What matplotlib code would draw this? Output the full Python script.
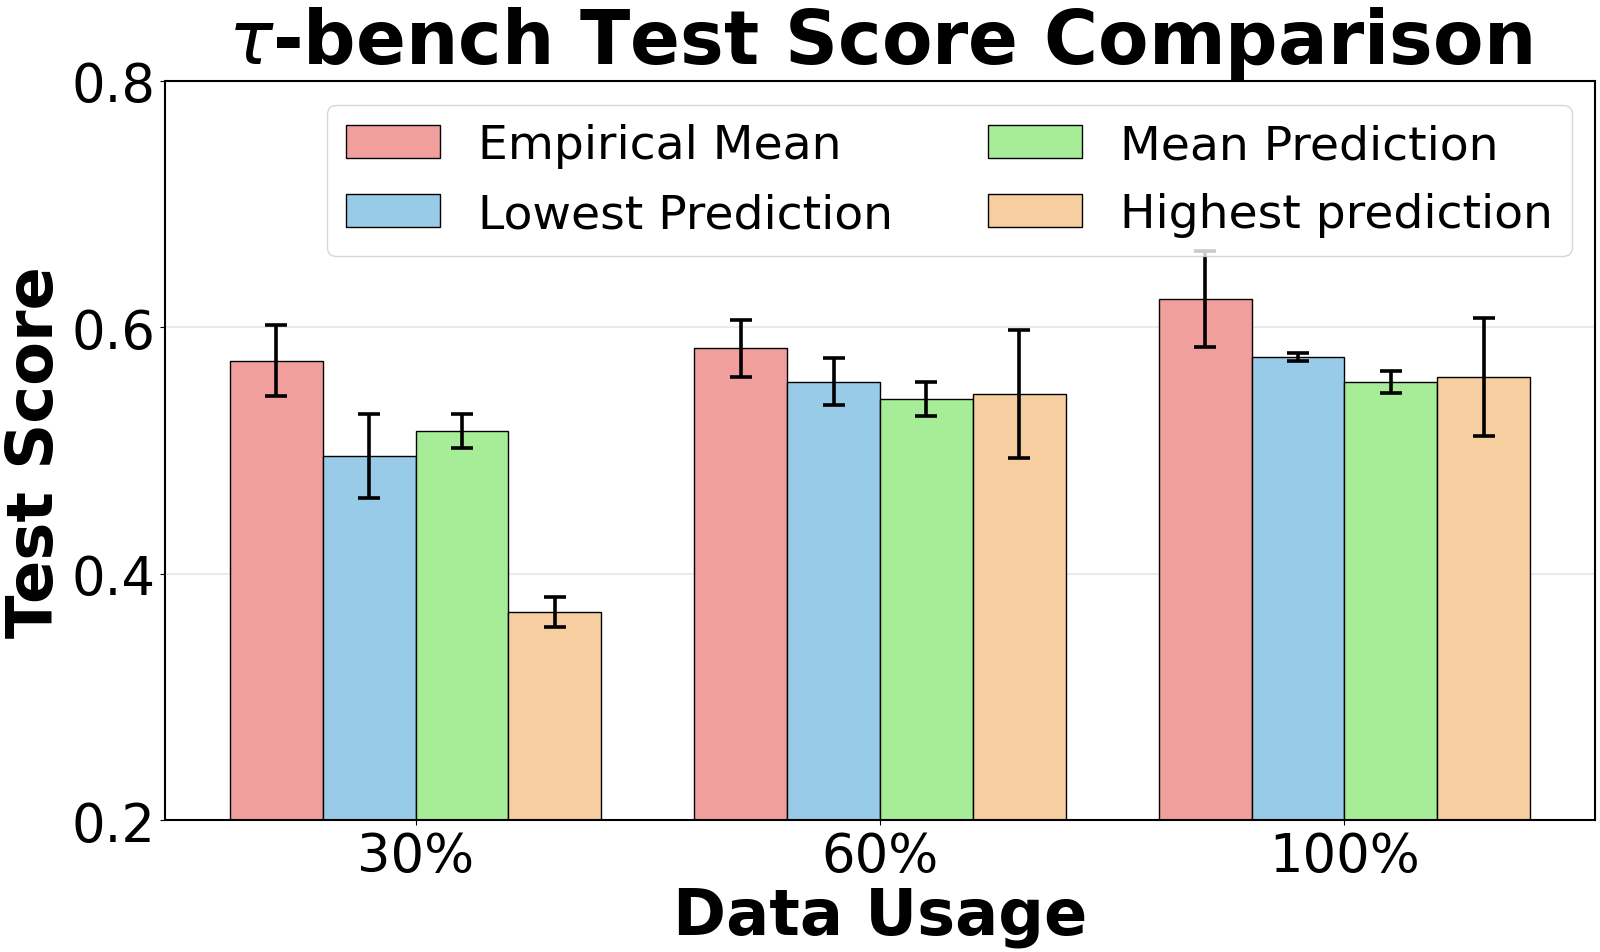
import matplotlib
matplotlib.use("Agg")
import matplotlib.pyplot as plt
import numpy as np

categories = ["30%", "60%", "100%"]
series_names = ["Empirical Mean", "Lowest Prediction", "Mean Prediction", "Highest prediction"]
empirical_mean = [0.573, 0.583, 0.623]
empirical_err = [0.029, 0.023, 0.039]
lowest_pred = [0.496, 0.556, 0.576]
lowest_err = [0.034, 0.019, 0.003]
mean_pred = [0.516, 0.542, 0.556]
mean_err = [0.014, 0.014, 0.009]
highest_pred = [0.369, 0.546, 0.560]
highest_err = [0.012, 0.052, 0.048]
colors = ["#F19F9D", "#98CBE8", "#A7EC96", "#F6CEA0"]
yticks = [0.2, 0.4, 0.6, 0.8]

plt.rcParams['font.family'] = ['DejaVu Sans']

fig = plt.figure(figsize=(16, 9.53), dpi=100)
ax = fig.add_axes([0.103, 0.138, 0.894, 0.776])

values = [empirical_mean, lowest_pred, mean_pred, highest_pred]
errors = [empirical_err, lowest_err, mean_err, highest_err]
x = np.arange(len(categories))
width = 0.2
for i, (vals, errs, name, c) in enumerate(zip(values, errors, series_names, colors)):
    ax.bar(x + (i - 1.5) * width, vals, width, yerr=errs, label=name, color=c,
           edgecolor='black', linewidth=1.0, capsize=8,
           error_kw=dict(elinewidth=2.6, capthick=2.6, ecolor='black'))

ax.set_ylim(0.2, 0.8)
ax.set_yticks(yticks)
ax.set_yticklabels([f"{t:.1f}" for t in yticks])
ax.set_xticks(x)
ax.set_xticklabels(categories)
ax.tick_params(axis='both', labelsize=38)
ax.yaxis.grid(True, color='#e6e6e6', linewidth=1.2)
ax.set_axisbelow(True)
for s in ax.spines.values():
    s.set_linewidth(1.5)

ax.set_xlabel("Data Usage", fontsize=46, fontweight='bold', labelpad=2)
ax.set_ylabel("Test Score", fontsize=46, fontweight='bold')
ax.set_title(r"$\tau$-bench Test Score Comparison", fontsize=53, fontweight='bold', pad=6)
ax.legend(ncol=2, loc='upper right', fontsize=34)

fig.savefig("out.png", dpi=100)
